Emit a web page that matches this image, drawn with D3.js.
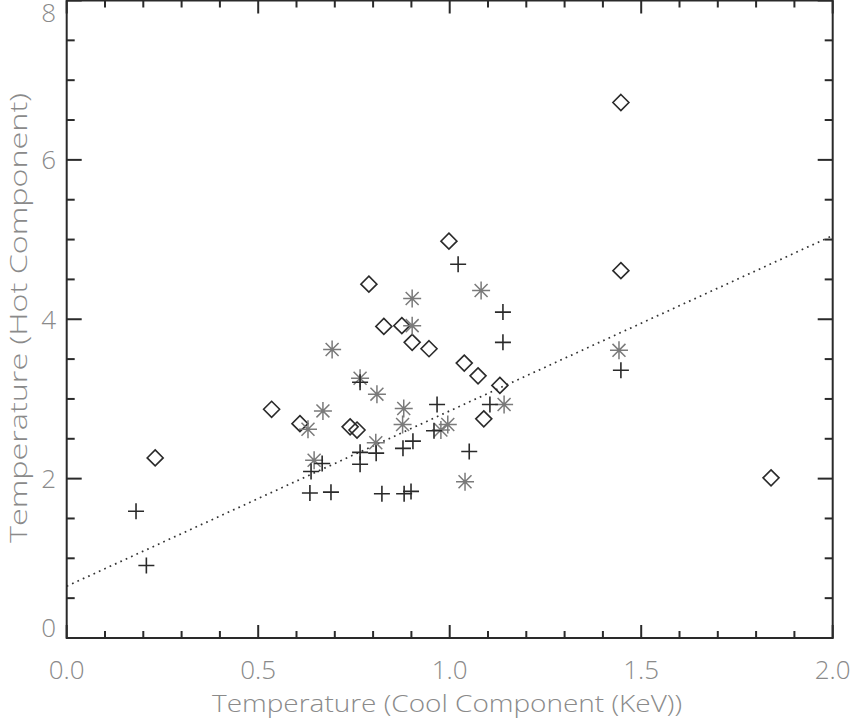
<!DOCTYPE html>
<html>
<head>
<meta charset="utf-8">
<script src="https://cdn.jsdelivr.net/npm/d3@7"></script>
<style>
  body { margin: 0; background: #fff; }
  text { font-family: "Open Sans", "DejaVu Sans", sans-serif; font-weight: 300; fill: #8a8a8a; }
</style>
</head>
<body>
<script>
// cool component temperature (x) and hot component temperature (y), three sample groups
var plusX = [0.181, 0.208, 0.635, 0.690, 0.638, 0.667, 0.766, 0.766, 0.766, 0.808, 0.823, 0.878, 0.881, 0.899, 0.904, 0.959, 0.967, 1.022, 1.051, 1.105, 1.139, 1.139, 1.447]
var plusY = [1.59, 0.91, 1.82, 1.83, 2.09, 2.19, 2.33, 2.18, 3.21, 2.32, 1.81, 2.38, 1.81, 1.84, 2.47, 2.60, 2.93, 4.69, 2.34, 2.93, 4.09, 3.71, 3.36]

var diamondX = [0.231, 0.535, 0.609, 0.740, 0.758, 0.789, 0.828, 0.875, 0.902, 0.946, 0.998, 1.038, 1.074, 1.131, 1.089, 1.447, 1.447, 1.839]
var diamondY = [2.26, 2.87, 2.69, 2.65, 2.61, 4.44, 3.91, 3.92, 3.71, 3.63, 4.98, 3.45, 3.29, 3.17, 2.75, 6.72, 4.61, 2.01]

var starX = [0.630, 0.646, 0.669, 0.693, 0.766, 0.807, 0.810, 0.877, 0.880, 0.902, 0.902, 0.977, 0.995, 1.040, 1.082, 1.142, 1.442]
var starY = [2.62, 2.23, 2.85, 3.62, 3.26, 2.45, 3.06, 2.68, 2.88, 4.26, 3.92, 2.61, 2.68, 1.96, 4.36, 2.93, 3.61]

// fitted line: y = a + b*x
var fitA = 0.65
var fitB = 2.2

var xTicks = [0.0, 0.5, 1.0, 1.5, 2.0]
var yTicks = [0, 2, 4, 6, 8]

var width = 850, height = 722
var plotLeft = 66.7, plotRight = 832.7, plotTop = 0.5, plotBottom = 638

var svg = d3.select('body').append('svg')
  .attr('width', width)
  .attr('height', height)

var x = d3.scaleLinear().domain([0, 2]).range([plotLeft, plotRight])
var y = d3.scaleLinear().domain([0, 8]).range([plotBottom, plotTop])

var ink = '#2a2a2a'

// frame
svg.append('rect')
  .attr('x', plotLeft).attr('y', plotTop)
  .attr('width', plotRight - plotLeft).attr('height', plotBottom - plotTop)
  .attr('fill', 'none').attr('stroke', ink).attr('stroke-width', 2)

// ticks on all four sides, pointing inward
var xMinor = d3.range(0, 21).map(function(i){ return i / 10 })
var yMinor = d3.range(0, 17).map(function(i){ return i / 2 })
function isMajor(v, step){ return Math.abs(v / step - Math.round(v / step)) < 1e-6 }

var ticks = svg.append('g').attr('stroke', ink).attr('stroke-width', 2)
xMinor.forEach(function(v){
  var len = isMajor(v, 0.5) ? 13 : 7
  ticks.append('line').attr('x1', x(v)).attr('x2', x(v)).attr('y1', plotBottom).attr('y2', plotBottom - len)
  ticks.append('line').attr('x1', x(v)).attr('x2', x(v)).attr('y1', plotTop).attr('y2', plotTop + len)
})
yMinor.forEach(function(v){
  var len = isMajor(v, 2) ? 15 : 8
  ticks.append('line').attr('x1', plotLeft).attr('x2', plotLeft + len).attr('y1', y(v)).attr('y2', y(v))
  ticks.append('line').attr('x1', plotRight).attr('x2', plotRight - len).attr('y1', y(v)).attr('y2', y(v))
})

// tick labels
svg.selectAll('.xlab')
  .data(xTicks)
  .enter()
  .append('text')
  .attr('class', 'xlab')
  .attr('x', function(d){ return x(d) })
  .attr('y', 679)
  .attr('text-anchor', 'middle')
  .attr('font-size', '26px')
  .text(function(d){ return d.toFixed(1) })

// the end labels are kept inside the window, as in the original
svg.selectAll('.ylab')
  .data(yTicks)
  .enter()
  .append('text')
  .attr('class', 'ylab')
  .attr('x', 56)
  .attr('y', function(d){ return Math.max(13, Math.min(628, y(d))) })
  .attr('dy', '0.36em')
  .attr('text-anchor', 'end')
  .attr('font-size', '26px')
  .text(function(d){ return d })

// axis titles
svg.append('text')
  .attr('x', 447).attr('y', 712)
  .attr('text-anchor', 'middle')
  .attr('font-size', '24px')
  .attr('textLength', 470)
  .attr('lengthAdjust', 'spacingAndGlyphs')
  .text('Temperature (Cool Component (KeV))')

svg.append('text')
  .attr('transform', 'translate(27,318) rotate(-90)')
  .attr('text-anchor', 'middle')
  .attr('font-size', '24px')
  .attr('textLength', 450)
  .attr('lengthAdjust', 'spacingAndGlyphs')
  .text('Temperature (Hot Component)')

// dotted fit line
svg.append('line')
  .attr('x1', x(0)).attr('y1', y(fitA))
  .attr('x2', x(2)).attr('y2', y(fitA + fitB * 2))
  .attr('stroke', '#333').attr('stroke-width', 1.7)
  .attr('stroke-dasharray', '1.7,4.2')

// diamonds
var diamonds = diamondX.map(function(v, i){ return [v, diamondY[i]] })
svg.selectAll('.diamond')
  .data(diamonds)
  .enter()
  .append('path')
  .attr('class', 'diamond')
  .attr('d', function(d){
    var cx = x(d[0]), cy = y(d[1]), r = 8
    return 'M' + cx + ',' + (cy - r) + 'L' + (cx + r) + ',' + cy + 'L' + cx + ',' + (cy + r) + 'L' + (cx - r) + ',' + cy + 'Z'
  })
  .attr('fill', 'none').attr('stroke', ink).attr('stroke-width', 1.6)

// asterisks
var stars = starX.map(function(v, i){ return [v, starY[i]] })
svg.selectAll('.star')
  .data(stars)
  .enter()
  .append('path')
  .attr('class', 'star')
  .attr('d', function(d){
    var cx = x(d[0]), cy = y(d[1]), r = 9, q = r * 0.72
    return 'M' + (cx - r) + ',' + cy + 'L' + (cx + r) + ',' + cy +
           'M' + cx + ',' + (cy - r) + 'L' + cx + ',' + (cy + r) +
           'M' + (cx - q) + ',' + (cy - q) + 'L' + (cx + q) + ',' + (cy + q) +
           'M' + (cx - q) + ',' + (cy + q) + 'L' + (cx + q) + ',' + (cy - q)
  })
  .attr('fill', 'none').attr('stroke', '#7a7a7a').attr('stroke-width', 1.5)

// plus signs
var pluses = plusX.map(function(v, i){ return [v, plusY[i]] })
svg.selectAll('.plus')
  .data(pluses)
  .enter()
  .append('path')
  .attr('class', 'plus')
  .attr('d', function(d){
    var cx = x(d[0]), cy = y(d[1]), r = 8
    return 'M' + (cx - r) + ',' + cy + 'L' + (cx + r) + ',' + cy +
           'M' + cx + ',' + (cy - r) + 'L' + cx + ',' + (cy + r)
  })
  .attr('fill', 'none').attr('stroke', ink).attr('stroke-width', 1.6)
</script>
</body>
</html>
